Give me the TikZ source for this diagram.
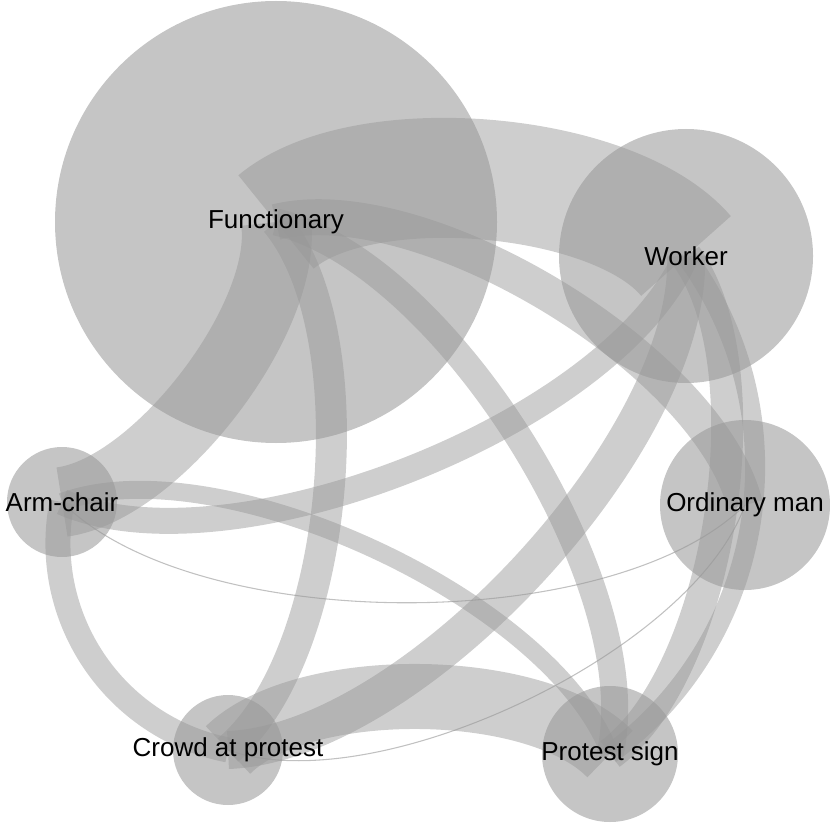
\documentclass[tikz,border=0pt]{standalone}
\usepackage{fontspec}
\setmainfont{Liberation Sans}
\definecolor{vgray}{RGB}{151,151,151}
\definecolor{egray}{RGB}{151,151,151}
\begin{document}
\begin{tikzpicture}[x=0.75pt,y=-0.75pt,
  vtx/.style={circle,draw=none,fill=vgray,fill opacity=0.56,inner sep=0pt,minimum size=#1},
  lbl/.style={inner sep=0pt,text=black,font=\fontsize{19.5}{23}\selectfont},
  band/.style={draw=egray,draw opacity=0.47,line width=#1,line cap=butt},
  hair/.style={draw=egray,draw opacity=0.6,line width=0.8pt},
  sweep/.style={bend left=45,looseness=0.7},
  sweepwide/.style={bend left=45,looseness=1.0}]
\useasboundingbox (0,0) rectangle (830,823);

% vertices
\node[vtx=331.5pt] (F) at (276,222) {};
\node[vtx=190.5pt] (W) at (686,256) {};
\node[vtx=127.5pt] (O) at (745,505) {};
\node[vtx=82.5pt]  (A) at (62,502) {};
\node[vtx=82.5pt]  (C) at (228,750) {};
\node[vtx=102pt]   (P) at (610,754) {};

% weighted edges, each curving to the left of its direction
\draw[band=90pt,sweep]    (F.center) to (W.center);
\draw[band=52.5pt,sweep]  (F.center) to (A.center);
\draw[band=48.75pt,sweep] (C.center) to (P.center);
\draw[band=28.5pt,sweep]  (W.center) to (C.center);
\draw[band=27pt,sweep]    (F.center) to (O.center);
\draw[band=19.5pt,sweep]  (W.center) to (A.center);
\draw[band=23.25pt,sweep] (F.center) to (C.center);
\draw[band=20.25pt,sweep] (F.center) to (P.center);
\draw[band=24pt,sweep]    (W.center) to (P.center);
\draw[band=15pt,sweepwide] (W.center) to (P.center);
\draw[band=13.5pt,sweep]  (A.center) to (P.center);
\draw[band=18.75pt,sweepwide] (C.center) to (A.center);
\draw[hair,sweep] (O.center) to (A.center);
\draw[hair,sweep] (O.center) to (C.center);

% labels
\node[lbl] (Fl) at (F) {Functionary};
\node[lbl] (Wl) at (W) {Worker};
\node[lbl] (Ol) at (O) {Ordinary man};
\node[lbl] (Al) at (A) {Arm-chair};
\node[lbl] (Cl) at (C) {Crowd at protest};
\node[lbl] (Pl) at (P) {Protest sign};
\end{tikzpicture}
\end{document}
